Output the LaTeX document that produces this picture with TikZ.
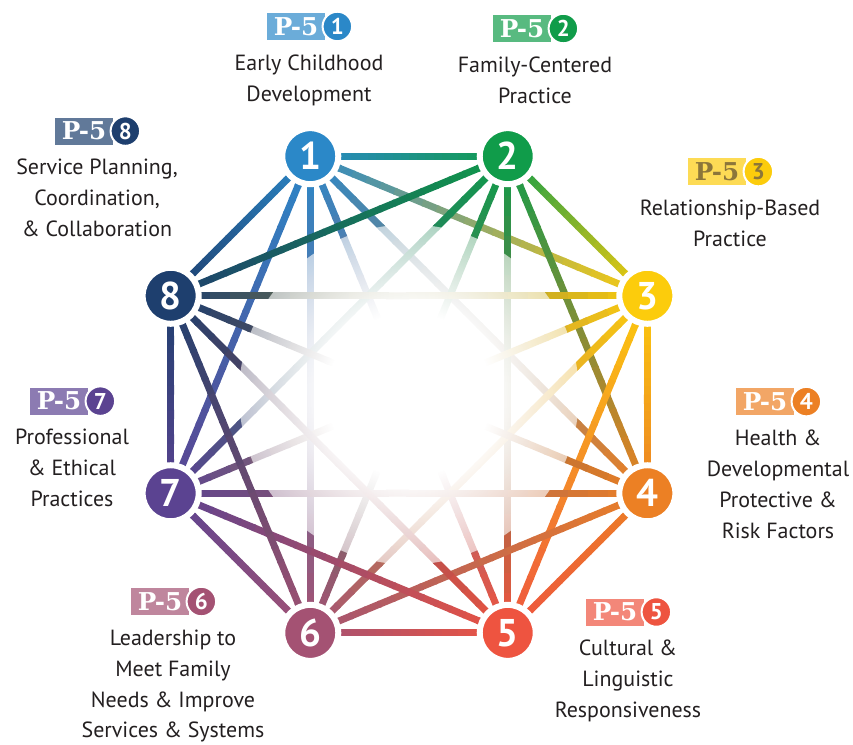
\documentclass[tikz,border=0pt]{standalone}
\usepackage{fontspec}
\setmainfont{PT Sans}
\newfontfamily\slabfont{DejaVu Serif}
\usetikzlibrary{positioning, calc, backgrounds, fadings}

\definecolor{comp1}{RGB}{43, 136, 200}
\definecolor{comp2}{RGB}{16, 156, 74}
\definecolor{comp3}{RGB}{252, 204, 12}
\definecolor{comp4}{RGB}{236, 128, 36}
\definecolor{comp5}{RGB}{238, 84, 64}
\definecolor{comp6}{RGB}{164, 82, 115}
\definecolor{comp7}{RGB}{91, 67, 145}
\definecolor{comp8}{RGB}{30, 63, 110}
\definecolor{olive}{RGB}{140, 118, 58}
\definecolor{ink}{RGB}{35, 31, 32}

% white glow over the middle of the web
\pgfdeclareradialshading{midglow}{\pgfpoint{0bp}{0bp}}{color(0bp)=(white); color(12bp)=(white); color(48bp)=(black); color(50bp)=(black)}
\pgfdeclarefading{midfade}{\pgfuseshading{midglow}}

\begin{document}
\begin{tikzpicture}[
  x=0.2mm, y=-0.2mm,
  station/.style={circle, draw=white, line width=1.2mm, minimum size=11.2mm, inner sep=0pt, text=white, font=\fontsize{22}{22}\selectfont\bfseries},
  link/.style={line width=1.4mm},
  tag/.style={minimum width=11.6mm, minimum height=5.4mm, inner sep=1pt, font=\slabfont\bfseries\fontsize{14}{14}\selectfont},
  tagnum/.style={circle, draw=white, line width=0.4mm, minimum size=5.9mm, inner sep=0pt, font=\bfseries\fontsize{13}{13}\selectfont},
  area/.style={align=center, text=ink, font=\fontsize{12.5}{17.6}\selectfont}
]
  \useasboundingbox (0,0) rectangle (853,744);
  \coordinate (mid) at (409,394.5);

  % the eight competencies
  \foreach \k/\a in {1/247.5, 2/292.5, 3/337.5, 4/22.5, 5/67.5, 6/112.5, 7/157.5, 8/202.5}
    \node[station, fill=comp\k] (n\k) at ($(mid)+(\a:258)$) {\k};

  % every competency linked to every other one
  \begin{scope}[on background layer]
    \foreach \i in {1,...,7}{
      \pgfmathtruncatemacro\jfirst{\i+1}
      \foreach \j in {\jfirst,...,8}{
        \foreach \s in {0,...,23}{
          \pgfmathtruncatemacro\mixpct{100-(\s+0.5)*100/24}
          \draw[link, draw=comp\i!\mixpct!comp\j]
            ($(n\i.center)!{\s/24}!(n\j.center)$) -- ($(n\i.center)!{(\s+1.15)/24}!(n\j.center)$);
        }
      }
    }
    \fill[white, path fading=midfade] (mid) circle (34mm);
  \end{scope}

  % labels
  \node[area] (l1) at (309,80) {Early Childhood\\Development};
  \node[area] (l2) at (535,80) {Family-Centered\\Practice};
  \node[area] (l3) at (730,223) {Relationship-Based\\Practice};
  \node[area] (l4) at (778,484) {Health \&\\Developmental\\Protective \&\\Risk Factors};
  \node[area] (l5) at (628,681) {Cultural \&\\Linguistic\\Responsiveness};
  \node[area] (l6) at (173,686) {Leadership to\\Meet Family\\Needs \& Improve\\Services \& Systems};
  \node[area] (l7) at (72,468) {Professional\\\& Ethical\\Practices};
  \node[area] (l8) at (97,198) {Service Planning,\\Coordination,\\\& Collaboration};

  % P-5 tags above the labels
  \foreach \k/\tone in {1/white, 2/white, 3/olive, 4/white, 5/white, 6/white, 7/white, 8/white}{
    \node[tag, fill=comp\k!70, text=\tone, above=1.6mm of l\k, xshift=-2.6mm] (t\k) {P-5};
    \node[tagnum, fill=comp\k, text=\tone] (t\k n) at ([xshift=2.4mm]t\k.east) {\k};
  }
\end{tikzpicture}
\end{document}
